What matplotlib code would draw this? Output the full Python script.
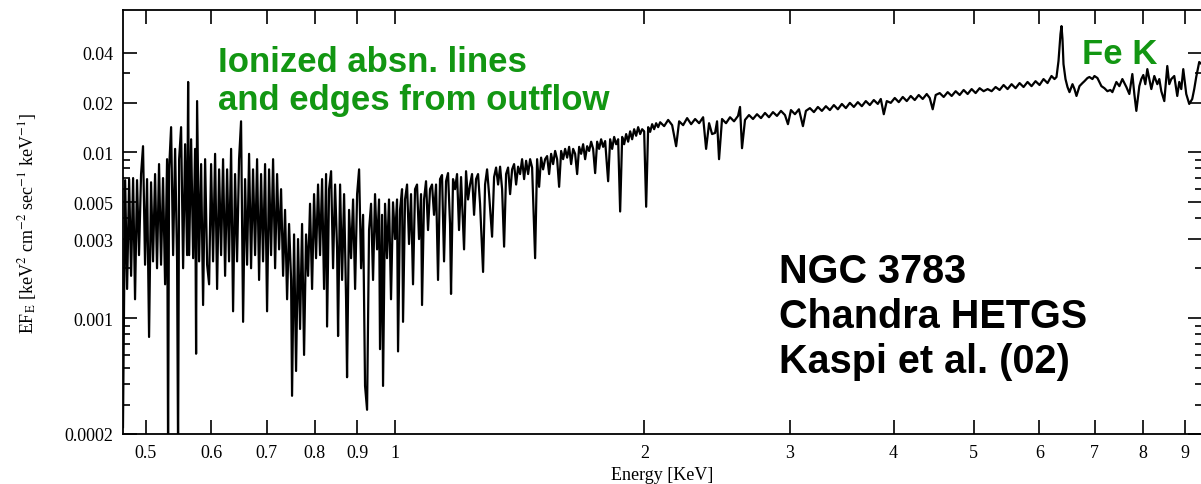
import matplotlib
matplotlib.use("Agg")
import matplotlib.pyplot as plt
import numpy as np
from matplotlib.ticker import NullLocator, NullFormatter

plt.rcParams["font.family"] = ["Liberation Serif", "DejaVu Serif"]
plt.rcParams["mathtext.fontset"] = "stix"

# ---- spectrum (energy in keV, E*F_E) ----
soft_energy = [
    0.4693, 0.4721, 0.4747, 0.4774, 0.4800, 0.4827, 0.4853, 0.4880, 0.4907, 0.4935,
    0.4962, 0.4990, 0.5018, 0.5046, 0.5074, 0.5102, 0.5131, 0.5159, 0.5188, 0.5217,
    0.5246, 0.5276, 0.5305, 0.5320, 0.5335, 0.5365, 0.5395, 0.5425, 0.5455, 0.5470,
    0.5486, 0.5516, 0.5547, 0.5578, 0.5609, 0.5625, 0.5641, 0.5672, 0.5704, 0.5735,
    0.5751, 0.5767, 0.5799, 0.5832, 0.5864, 0.5897, 0.5930, 0.5963, 0.5996, 0.6029,
    0.6063, 0.6097, 0.6131, 0.6165, 0.6199, 0.6234, 0.6269, 0.6303, 0.6339, 0.6374,
    0.6409, 0.6445, 0.6481, 0.6517, 0.6554, 0.6590, 0.6627, 0.6664, 0.6701, 0.6738,
    0.6776, 0.6814, 0.6852, 0.6890, 0.6928, 0.6967, 0.7006, 0.7045, 0.7084, 0.7124,
    0.7164, 0.7204, 0.7244, 0.7284, 0.7325, 0.7365, 0.7407, 0.7448, 0.7490, 0.7510,
    0.7552, 0.7594, 0.7636, 0.7679, 0.7722, 0.7765, 0.7808, 0.7852, 0.7895, 0.7940,
    0.7984, 0.8028, 0.8073, 0.8118, 0.8164, 0.8209, 0.8255, 0.8278, 0.8324, 0.8371,
    0.8417, 0.8464, 0.8512, 0.8535, 0.8583, 0.8631, 0.8679, 0.8727, 0.8751, 0.8800,
    0.8849, 0.8899, 0.8949, 0.8999, 0.9049, 0.9099, 0.9150, 0.9200, 0.9252, 0.9303,
    0.9355, 0.9407, 0.9459, 0.9512, 0.9565, 0.9591, 0.9645, 0.9672, 0.9726, 0.9780,
    0.9834, 0.9889, 0.9944,
]
soft_flux = [
    0.00022, 0.0068, 0.0015, 0.0069, 0.0018, 0.0070, 0.0013, 0.0068, 0.0024, 0.0074,
    0.0109, 0.0021, 0.0069, 0.00077, 0.0066, 0.0022, 0.0074, 0.0020, 0.0085, 0.0021,
    0.0070, 0.0016, 0.0091, 0.00015, 0.0079, 0.0142, 0.0024, 0.0105, 0.0022, 0.00015,
    0.0091, 0.0142, 0.0020, 0.0112, 0.0024, 0.0266, 0.0024, 0.0120, 0.0023, 0.0105,
    0.00061, 0.0204, 0.0022, 0.0085, 0.0012, 0.0091, 0.0021, 0.0016, 0.0085, 0.0022,
    0.0098, 0.0015, 0.0079, 0.0024, 0.0091, 0.0018, 0.0079, 0.0022, 0.0105, 0.0011,
    0.0074, 0.0022, 0.0091, 0.0154, 0.00095, 0.0069, 0.0021, 0.0098, 0.0020, 0.0079,
    0.0024, 0.0091, 0.0017, 0.0074, 0.0022, 0.0085, 0.0011, 0.0079, 0.0024, 0.0091,
    0.0020, 0.0074, 0.0026, 0.0060, 0.0018, 0.0045, 0.0013, 0.0037, 0.0017, 0.00034,
    0.0032, 0.00048, 0.0030, 0.00086, 0.0037, 0.00060, 0.0032, 0.0018, 0.0049, 0.0015,
    0.0056, 0.0023, 0.0064, 0.0024, 0.0069, 0.0015, 0.0074, 0.00089, 0.0060, 0.0077,
    0.0020, 0.0064, 0.0026, 0.00078, 0.0064, 0.0017, 0.0056, 0.0013, 0.00044, 0.0045,
    0.0023, 0.0052, 0.0015, 0.0056, 0.0079, 0.0020, 0.0042, 0.00039, 0.00028, 0.0034,
    0.0049, 0.0017, 0.0056, 0.0026, 0.0052, 0.00065, 0.0042, 0.00039, 0.0049, 0.0023,
    0.0052, 0.0013, 0.0050,
]

mid_energy = [
    1.0000, 1.0056, 1.0084, 1.0140, 1.0197, 1.0225, 1.0282, 1.0340, 1.0397, 1.0455,
    1.0513, 1.0572, 1.0631, 1.0690, 1.0750, 1.0780, 1.0840, 1.0900, 1.0961, 1.1022,
    1.1084, 1.1145, 1.1208, 1.1270, 1.1333, 1.1396, 1.1460, 1.1524, 1.1588, 1.1653,
    1.1685, 1.1750, 1.1816, 1.1882, 1.1948, 1.2015, 1.2116, 1.2183, 1.2251, 1.2320,
    1.2388, 1.2458, 1.2527, 1.2597, 1.2667, 1.2774, 1.2845, 1.2917, 1.2989, 1.3098,
    1.3171, 1.3245, 1.3319, 1.3393, 1.3468, 1.3543, 1.3618, 1.3694, 1.3771, 1.3848,
    1.3925, 1.4003, 1.4081, 1.4159, 1.4238, 1.4318, 1.4398, 1.4478, 1.4559, 1.4640,
    1.4763, 1.4845, 1.4928, 1.5011, 1.5095, 1.5179, 1.5264, 1.5349, 1.5435, 1.5521,
    1.5608, 1.5695, 1.5782, 1.5871, 1.5959, 1.6048, 1.6138, 1.6228, 1.6318, 1.6409,
    1.6501, 1.6593, 1.6686, 1.6779, 1.6872, 1.6966, 1.7061, 1.7156, 1.7252, 1.7348,
    1.7445, 1.7542, 1.7640, 1.7738, 1.7837, 1.7937, 1.8087, 1.8188, 1.8290, 1.8392,
    1.8494, 1.8598, 1.8701, 1.8806, 1.8910, 1.9016, 1.9122, 1.9229, 1.9336, 1.9444,
    1.9552, 1.9661, 1.9771, 1.9881,
]
mid_flux = [
    0.0030, 0.0052, 0.00063, 0.0045, 0.0060, 0.00095, 0.0052, 0.0064, 0.0028, 0.0056,
    0.0016, 0.0060, 0.0064, 0.0030, 0.0056, 0.0012, 0.0052, 0.0067, 0.0034, 0.0060,
    0.0064, 0.0042, 0.0064, 0.0017, 0.0069, 0.0073, 0.0022, 0.0067, 0.0075, 0.0037,
    0.0014, 0.0069, 0.0060, 0.0074, 0.0034, 0.0071, 0.0026, 0.0077, 0.0052, 0.0064,
    0.0074, 0.0042, 0.0069, 0.0074, 0.0049, 0.0019, 0.0064, 0.0079, 0.0056, 0.0031,
    0.0071, 0.0081, 0.0064, 0.0082, 0.0060, 0.0027, 0.0074, 0.0081, 0.0056, 0.0079,
    0.0085, 0.0064, 0.0082, 0.0074, 0.0091, 0.0069, 0.0089, 0.0074, 0.0091, 0.0081,
    0.0023, 0.0091, 0.0062, 0.0093, 0.0079, 0.0091, 0.0095, 0.0074, 0.0098, 0.0085,
    0.0102, 0.0091, 0.0062, 0.0102, 0.0091, 0.0105, 0.0093, 0.0108, 0.0085, 0.0105,
    0.0098, 0.0074, 0.0108, 0.0098, 0.0112, 0.0091, 0.0109, 0.0102, 0.0116, 0.0105,
    0.0075, 0.0116, 0.0105, 0.0120, 0.0108, 0.0117, 0.0067, 0.0120, 0.0105, 0.0124,
    0.0112, 0.0120, 0.0044, 0.0124, 0.0112, 0.0129, 0.0116, 0.0134, 0.0120, 0.0138,
    0.0126, 0.0142, 0.0129, 0.0138,
]

hard_energy = [
    1.9992, 2.0104, 2.0216, 2.0328, 2.0442, 2.0556, 2.0670, 2.0786, 2.0902, 2.1135,
    2.1372, 2.1610, 2.1852, 2.2035, 2.2281, 2.2530, 2.2782, 2.3036, 2.3294, 2.3554,
    2.3750, 2.3948, 2.4148, 2.4349, 2.4485, 2.4621, 2.4826, 2.5104, 2.5384, 2.5668,
    2.5955, 2.6099, 2.6245, 2.6464, 2.6760, 2.7059, 2.7361, 2.7667, 2.7976, 2.8288,
    2.8604, 2.8924, 2.9247, 2.9574, 2.9821, 3.0070, 3.0406, 3.0745, 3.1089, 3.1348,
    3.1698, 3.2052, 3.2410, 3.2772, 3.3138, 3.3508, 3.3883, 3.4261, 3.4644, 3.5031,
    3.5422, 3.5818, 3.6218, 3.6622, 3.7031, 3.7445, 3.7863, 3.8286, 3.8606, 3.8928,
    3.9253, 3.9692, 4.0135, 4.0583, 4.1037, 4.1495, 4.1958, 4.2427, 4.2901, 4.3380,
    4.3864, 4.4231, 4.4600, 4.4973, 4.5475, 4.5983, 4.6496, 4.7016, 4.7541, 4.8072,
    4.8608, 4.9151, 4.9700, 5.0255, 5.0816, 5.1384, 5.1958, 5.2538, 5.3125, 5.3718,
    5.4318, 5.4924, 5.5538, 5.6158, 5.6785, 5.7419, 5.8060, 5.8708, 5.9364, 6.0027,
]
hard_flux = [
    0.0134, 0.0047, 0.0142, 0.0133, 0.0148, 0.0138, 0.0150, 0.0142, 0.0152, 0.0144,
    0.0157, 0.0146, 0.0109, 0.0154, 0.0146, 0.0161, 0.0148, 0.0159, 0.0150, 0.0163,
    0.0105, 0.0150, 0.0129, 0.0131, 0.0154, 0.0091, 0.0159, 0.0150, 0.0163, 0.0154,
    0.0166, 0.0188, 0.0106, 0.0157, 0.0168, 0.0159, 0.0170, 0.0161, 0.0173, 0.0163,
    0.0175, 0.0166, 0.0178, 0.0168, 0.0148, 0.0180, 0.0170, 0.0182, 0.0144, 0.0178,
    0.0185, 0.0175, 0.0188, 0.0178, 0.0190, 0.0180, 0.0193, 0.0182, 0.0196, 0.0185,
    0.0199, 0.0188, 0.0201, 0.0190, 0.0204, 0.0193, 0.0207, 0.0196, 0.0210, 0.0170,
    0.0204, 0.0199, 0.0213, 0.0201, 0.0216, 0.0204, 0.0219, 0.0207, 0.0222, 0.0210,
    0.0225, 0.0213, 0.0182, 0.0222, 0.0228, 0.0216, 0.0231, 0.0219, 0.0234, 0.0222,
    0.0238, 0.0225, 0.0241, 0.0228, 0.0244, 0.0234, 0.0241, 0.0234, 0.0248, 0.0238,
    0.0255, 0.0241, 0.0258, 0.0244, 0.0262, 0.0248, 0.0266, 0.0251, 0.0269, 0.0255,
]

iron_energy = [
    6.0697, 6.1375, 6.2060, 6.2578, 6.2927, 6.3278, 6.3630, 6.3808, 6.3985, 6.4164,
    6.4521, 6.4881, 6.5243, 6.5788, 6.6154, 6.6523, 6.7078, 6.7638, 6.8015, 6.8583,
    6.8965, 6.9541, 6.9929, 7.0513, 7.1300, 7.1895, 7.2495, 7.3100, 7.3508, 7.3918,
    7.4330, 7.4950, 7.5576, 7.5997, 7.6421, 7.7059, 7.7702, 7.8135, 7.8571, 7.9227,
    7.9668, 8.0113, 8.0559, 8.1009, 8.1460, 8.1915, 8.2598, 8.3288, 8.3752, 8.4219,
    8.4922, 8.5631, 8.6108, 8.6589, 8.7312, 8.8040, 8.8531, 8.9025, 8.9521, 9.0269,
    9.1022, 9.1782, 9.2294, 9.2809, 9.3583, 9.43,
]
iron_flux = [
    0.0277, 0.0262, 0.0289, 0.0277, 0.0285, 0.0356, 0.0518, 0.0578, 0.0483, 0.0341,
    0.0277, 0.0248, 0.0231, 0.0258, 0.0241, 0.0219, 0.0251, 0.0262, 0.0269, 0.0281,
    0.0285, 0.0277, 0.0289, 0.0281, 0.0251, 0.0244, 0.0234, 0.0238, 0.0231, 0.0248,
    0.0266, 0.0251, 0.0277, 0.0262, 0.0248, 0.0225, 0.0297, 0.0225, 0.0178, 0.0251,
    0.0277, 0.0293, 0.0258, 0.0318, 0.0277, 0.0241, 0.0289, 0.0258, 0.0277, 0.0234,
    0.0204, 0.0332, 0.0258, 0.0277, 0.0289, 0.0219, 0.0266, 0.0241, 0.0318, 0.0225,
    0.0196, 0.0210, 0.0241, 0.0285, 0.0351, 0.0340,
]

x_ticks = [0.5, 0.6, 0.7, 0.8, 0.9, 1, 2, 3, 4, 5, 6, 7, 8, 9]
x_labels = ["0.5", "0.6", "0.7", "0.8", "0.9", "1", "2", "3", "4", "5", "6", "7", "8", "9"]
y_ticks = [0.0002, 0.001, 0.003, 0.005, 0.01, 0.02, 0.04]
y_labels = ["0.0002", "0.001", "0.003", "0.005", "0.01", "0.02", "0.04"]
y_minor = [0.0003, 0.0004, 0.0005, 0.0006, 0.0007, 0.0008, 0.0009,
           0.002, 0.004, 0.006, 0.007, 0.008, 0.009, 0.03]

green = "#129612"

energy = np.concatenate([soft_energy, mid_energy, hard_energy, iron_energy])
flux = np.concatenate([soft_flux, mid_flux, hard_flux, iron_flux])

fig = plt.figure(figsize=(12.01, 4.85), dpi=100)
ax = fig.add_axes([0.1024, 0.1031, 0.8984, 0.8732])

ax.plot(energy, flux, color="black", lw=1.6)

ax.set_xscale("log")
ax.set_yscale("log")
ax.set_xlim(0.4693, 9.43)
ax.set_ylim(0.0002, 0.0718)

ax.set_xticks(x_ticks)
ax.set_xticklabels(x_labels)
ax.xaxis.set_minor_locator(NullLocator())
ax.set_yticks(y_ticks)
ax.set_yticklabels(y_labels)
ax.set_yticks(y_minor, minor=True)
ax.yaxis.set_minor_formatter(NullFormatter())

ax.tick_params(which="both", direction="in", top=True, right=True, labelsize=13)
ax.tick_params(which="major", length=10, width=1.2, pad=7)
ax.tick_params(which="minor", length=5, width=1.2)
for s in ax.spines.values():
    s.set_linewidth(1.3)

ax.set_xlabel("Energy [KeV]", fontsize=13)
ax.xaxis.set_label_coords(0.5, -0.076)
ax.xaxis.label.set_va("top")
ax.set_ylabel(r"EF$_{\rm E}$ [keV$^2$ cm$^{-2}$ sec$^{-1}$ keV$^{-1}$]", fontsize=13)
ax.yaxis.set_label_coords(-0.078, 0.5)

sans = ["Liberation Sans", "DejaVu Sans"]
ax.text(0.088, 0.857, "Ionized absn. lines", transform=ax.transAxes,
        color=green, fontsize=25, fontweight="bold", family=sans, va="baseline")
ax.text(0.088, 0.767, "and edges from outflow", transform=ax.transAxes,
        color=green, fontsize=25, fontweight="bold", family=sans, va="baseline")
ax.text(0.889, 0.876, "Fe K", transform=ax.transAxes,
        color=green, fontsize=25, fontweight="bold", family=sans, va="baseline")
for txt, yy in [("NGC 3783", 0.359), ("Chandra HETGS", 0.253), ("Kaspi et al. (02)", 0.146)]:
    ax.text(0.608, yy, txt, transform=ax.transAxes, color="black",
            fontsize=28.5, fontweight="bold", family=sans, va="baseline")

fig.savefig("out.png", dpi=100)
